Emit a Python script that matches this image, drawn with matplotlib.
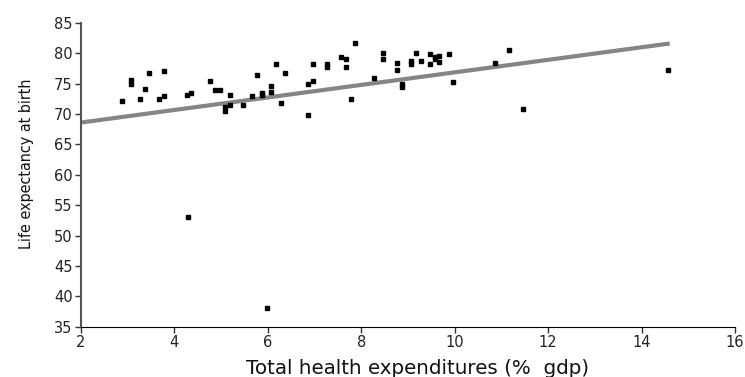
import matplotlib.pyplot as plt

# health spending (% gdp) vs life expectancy
spend = [2.87, 3.07, 3.07, 3.37, 3.26, 3.46, 3.67, 3.78, 3.77, 4.26, 4.36,
         4.77, 4.86, 4.98, 5.08, 5.08, 5.18, 5.18, 5.47, 5.67, 5.77, 5.88,
         5.88, 6.06, 6.06, 6.18, 6.28, 6.37, 6.85, 6.85, 6.97, 6.97, 7.27,
         7.27, 7.57, 7.67, 7.67, 7.77, 7.87, 8.27, 8.47, 8.47, 8.77, 8.77,
         8.87, 8.87, 9.07, 9.07, 9.17, 9.27, 9.46, 9.46, 9.57, 9.57, 9.67,
         9.67, 9.87, 9.97, 10.87, 11.17, 11.46, 14.56, 4.28, 5.98]
life = [72.1, 75.6, 75.0, 74.1, 72.5, 76.8, 72.5, 72.9, 77.0, 73.2, 73.4,
        75.4, 73.9, 73.9, 71.2, 70.5, 73.1, 71.5, 71.4, 73.0, 76.4, 73.4,
        73.1, 74.6, 73.6, 78.2, 71.8, 76.7, 69.8, 75.0, 75.5, 78.3, 78.2,
        77.8, 79.3, 79.0, 77.7, 72.5, 81.7, 76.0, 80.0, 79.0, 78.4, 77.2,
        75.0, 74.4, 78.8, 78.2, 80.0, 78.8, 79.8, 78.2, 79.3, 79.0, 79.5,
        78.5, 79.9, 75.3, 78.4, 80.5, 70.9, 77.3, 53.0, 38.1]

# fitted trend line
fit_x = [2, 14.6]
fit_y = [68.6, 81.6]

x_ticks = [2, 4, 6, 8, 10, 12, 14, 16]
y_ticks = [35, 40, 45, 50, 55, 60, 65, 70, 75, 80, 85]

fig = plt.figure(figsize=(7.45, 3.77), dpi=100)
ax = fig.add_axes([0.1087, 0.1334, 0.878, 0.806])

ax.plot(fit_x, fit_y, color='#858585', linewidth=3, solid_capstyle='butt', zorder=2)
ax.plot(spend, life, 's', color='black', markersize=2.3, zorder=3)

ax.set_xlim(2, 16)
ax.set_ylim(35, 85)
ax.set_xticks(x_ticks)
ax.set_yticks(y_ticks)
ax.tick_params(labelsize=10.5, color='#333333', length=4, width=1, pad=2,
               labelcolor='#222222')

ax.spines['top'].set_visible(False)
ax.spines['right'].set_visible(False)
ax.spines['left'].set_color('#555555')
ax.spines['left'].set_linewidth(1.5)
ax.spines['bottom'].set_color('black')

ax.set_xlabel('Total health expenditures (%  gdp)', fontsize=14.3,
              color='#111111')
ax.xaxis.set_label_coords(0.515, -0.105)
ax.set_ylabel('Life expectancy at birth', fontsize=11.5, stretch='condensed',
              family=['DejaVu Sans'], color='#111111')
ax.yaxis.set_label_coords(-0.072, 0.535)

fig.savefig('out.png', dpi=100)
